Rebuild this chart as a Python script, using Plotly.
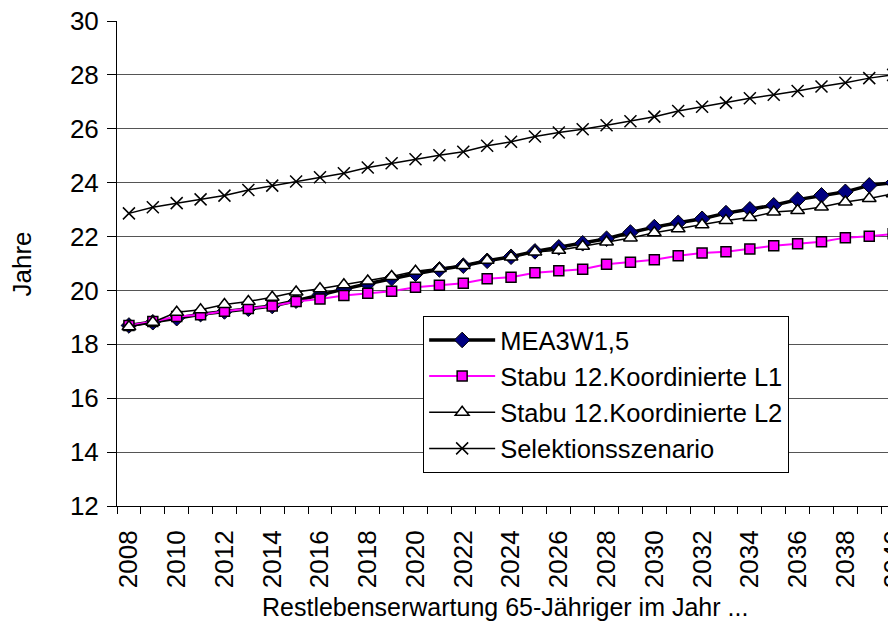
import plotly.graph_objects as go

# Restlebenserwartung 65-Jähriger, Jahre
years = list(range(2008, 2041))

mea3w = [18.70, 18.82, 18.97, 19.12, 19.22, 19.32, 19.42, 19.62, 19.85, 20.05, 20.25,
         20.45, 20.62, 20.78, 20.92, 21.10, 21.25, 21.45, 21.60, 21.75, 21.92, 22.15,
         22.35, 22.51, 22.66, 22.87, 23.01, 23.16, 23.37, 23.53, 23.66, 23.90, 24.00]
stabu_l1 = [18.70, 18.85, 19.03, 19.10, 19.23, 19.33, 19.42, 19.59, 19.68, 19.81, 19.90,
            19.97, 20.12, 20.19, 20.27, 20.43, 20.49, 20.66, 20.73, 20.79, 20.97, 21.05,
            21.14, 21.29, 21.39, 21.44, 21.54, 21.66, 21.73, 21.81, 21.96, 22.01, 22.10]
stabu_l2 = [18.65, 18.82, 19.19, 19.28, 19.48, 19.59, 19.75, 19.94, 20.06, 20.21, 20.35,
            20.52, 20.71, 20.81, 20.93, 21.12, 21.24, 21.43, 21.49, 21.64, 21.80, 21.95,
            22.14, 22.29, 22.44, 22.60, 22.71, 22.91, 22.97, 23.10, 23.28, 23.41, 23.59]
selektion = [22.86, 23.09, 23.24, 23.38, 23.52, 23.73, 23.89, 24.04, 24.20, 24.35, 24.56,
             24.72, 24.87, 25.02, 25.15, 25.37, 25.52, 25.71, 25.86, 25.98, 26.13, 26.28,
             26.45, 26.66, 26.82, 26.97, 27.13, 27.26, 27.40, 27.57, 27.71, 27.88, 28.00]

tick_years = years[::2]
boundaries = [y - 0.5 for y in years] + [years[-1] + 0.5]

FONT = "Liberation Sans, Arial, sans-serif"

fig = go.Figure()
fig.add_trace(go.Scatter(
    x=years, y=mea3w, name="MEA3W1,5", mode="lines+markers",
    line=dict(color="black", width=3.5),
    marker=dict(symbol="diamond", size=12, color="#000080",
                line=dict(color="black", width=1)),
))
fig.add_trace(go.Scatter(
    x=years, y=stabu_l1, name="Stabu 12.Koordinierte L1", mode="lines+markers",
    line=dict(color="#FF00FF", width=2),
    marker=dict(symbol="square", size=10, color="#FF00FF",
                line=dict(color="black", width=1.5)),
))
fig.add_trace(go.Scatter(
    x=years, y=stabu_l2, name="Stabu 12.Koordinierte L2", mode="lines+markers",
    line=dict(color="black", width=1.5),
    marker=dict(symbol="triangle-up", size=12, color="white",
                line=dict(color="black", width=1.5)),
))
fig.add_trace(go.Scatter(
    x=years, y=selektion, name="Selektionsszenario", mode="lines+markers",
    line=dict(color="black", width=1.5),
    marker=dict(symbol="x-thin", size=12, color="black",
                line=dict(color="black", width=1.5)),
))

# the page has an 8px body margin, so the plot is shifted up/left by that much
fig.update_layout(
    width=896, height=622,
    margin=dict(l=109, r=8, t=13, b=124, autoexpand=False),
    paper_bgcolor="white", plot_bgcolor="white",
    font=dict(family=FONT, size=25, color="black"),
    showlegend=True,
    legend=dict(
        x=0.393, y=0.392, xanchor="left", yanchor="top",
        bgcolor="white", bordercolor="black", borderwidth=1,
        font=dict(family=FONT, size=25.5),
        itemwidth=66, tracegroupgap=0,
    ),
    xaxis=dict(
        range=[2007.5, 2040.12], automargin=False,
        tickmode="array", tickvals=tick_years, ticktext=[str(y) for y in tick_years],
        tickangle=-90, ticks="", ticklabelstandoff=13, ticklabeloverflow="allow",
        showgrid=False, zeroline=False,
        showline=True, linecolor="black", linewidth=1,
        minor=dict(tickvals=boundaries, ticks="outside", ticklen=7,
                   tickcolor="black", tickwidth=1, showgrid=False),
        tickfont=dict(size=26),
    ),
    yaxis=dict(
        range=[12, 30], dtick=2, tick0=12, automargin=False,
        ticks="outside", ticklen=9, tickcolor="black", ticklabelstandoff=3,
        ticklabeloverflow="allow",
        showgrid=True, gridcolor="#555555", gridwidth=1,
        zeroline=False, showline=True, linecolor="black", linewidth=1,
        tickfont=dict(size=26),
    ),
    annotations=[
        dict(text="Restlebenserwartung 65-Jähriger im Jahr ...", xref="paper", yref="paper",
             x=0.498, y=-0.208, xanchor="center", yanchor="middle", showarrow=False,
             font=dict(size=25)),
        dict(text="Jahre", xref="paper", yref="paper", textangle=-90,
             x=-0.122, y=0.5, xanchor="center", yanchor="middle", showarrow=False,
             font=dict(size=26)),
    ],
)

fig.write_html("out.html")
